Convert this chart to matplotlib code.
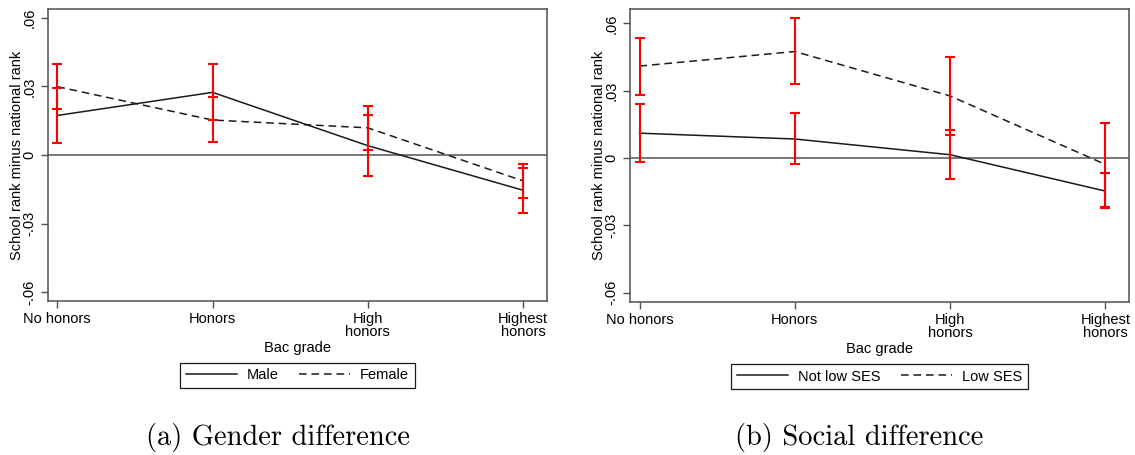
import matplotlib
matplotlib.use("Agg")
import matplotlib.pyplot as plt
import numpy as np

plt.rcParams["font.family"] = ["Liberation Sans", "DejaVu Sans"]
plt.rcParams["font.size"] = 10.5
plt.rcParams["lines.scale_dashes"] = False

grades = ["No honors", "Honors", "High\nhonors", "Highest\nhonors"]

# (a) gender: point estimates and 95% CI bounds
male = [0.0173, 0.0274, 0.0041, -0.0154]
male_lo = [0.0054, 0.0152, -0.0092, -0.0255]
male_hi = [0.0294, 0.0396, 0.0175, -0.0058]
female = [0.0299, 0.0153, 0.0119, -0.0113]
female_lo = [0.0201, 0.0057, 0.0022, -0.0189]
female_hi = [0.0400, 0.0252, 0.0215, -0.0038]

# (b) social background
notlow = [0.0111, 0.0085, 0.0015, -0.0147]
notlow_lo = [-0.0018, -0.0028, -0.0092, -0.0222]
notlow_hi = [0.0240, 0.0199, 0.0123, -0.0068]
low = [0.0410, 0.0475, 0.0277, -0.0028]
low_lo = [0.0279, 0.0328, 0.0102, -0.0218]
low_hi = [0.0537, 0.0625, 0.0450, 0.0156]

yticks = [-0.06, -0.03, 0, 0.03, 0.06]
ytick_labels = ["-.06", "-.03", "0", ".03", ".06"]

panels = [
    dict(rect=[0.042, 0.339, 0.440, 0.641], ylim=(-0.0637, 0.0638),
         series=[("Male", male, male_lo, male_hi, "-"),
                 ("Female", female, female_lo, female_hi, "--")],
         caption="(a) Gender difference", cap_x=278 / 1135),
    dict(rect=[0.555, 0.337, 0.440, 0.643], ylim=(-0.0640, 0.0664),
         series=[("Not low SES", notlow, notlow_lo, notlow_hi, "-"),
                 ("Low SES", low, low_lo, low_hi, "--")],
         caption="(b) Social difference", cap_x=859 / 1135),
]

fig = plt.figure(figsize=(11.35, 4.55), dpi=100)
frame_col = "#505050"
x = np.arange(len(grades))

for p in panels:
    ax = fig.add_axes(p["rect"])
    ax.axhline(0, color="#606060", lw=1.2, zorder=1)
    handles = []
    for name, mean, lo, hi, ls in p["series"]:
        mean = np.array(mean)
        line, = ax.plot(x, mean, color="#1a1a1a", lw=1.1, zorder=2, label=name)
        if ls == "--":
            line.set_dashes((5.5, 3.5))
        handles.append(line)
        err = [mean - np.array(lo), np.array(hi) - mean]
        ax.errorbar(x, mean, yerr=err, fmt="none", ecolor="#ff0000",
                    elinewidth=1.5, capsize=3.3, capthick=1.5, zorder=3)

    ax.set_xlim(-0.062, 3.155)
    ax.set_ylim(*p["ylim"])
    ax.set_xticks(x)
    ax.set_xticklabels(grades, linespacing=0.95)
    ax.set_yticks(yticks)
    ax.set_yticklabels(ytick_labels, rotation=90, va="center")
    ax.tick_params(direction="out", length=5, width=1, color=frame_col, pad=3)
    for s in ax.spines.values():
        s.set_color(frame_col)
        s.set_linewidth(1.1)

    ax.set_ylabel("School rank minus national rank")
    ax.yaxis.set_label_coords(-0.0615, 0.5)
    ax.yaxis.label.set_va("center")
    ax.set_xlabel("Bac grade")
    ax.xaxis.set_label_coords(0.5, -0.162)
    ax.xaxis.label.set_va("center")

    leg = ax.legend(handles=handles, loc="center", bbox_to_anchor=(0.5, -0.256),
                    ncol=2, frameon=True, fancybox=False, framealpha=1,
                    edgecolor="#1a1a1a", handlelength=3.5, handletextpad=0.7,
                    columnspacing=1.35, borderpad=0.4)
    leg.get_frame().set_linewidth(0.9)

    fig.text(p["cap_x"], 1 - 438 / 455, p["caption"], ha="center", va="center",
             fontsize=20.5, family="cmr10")

fig.savefig("out.png", dpi=100, facecolor="white")
